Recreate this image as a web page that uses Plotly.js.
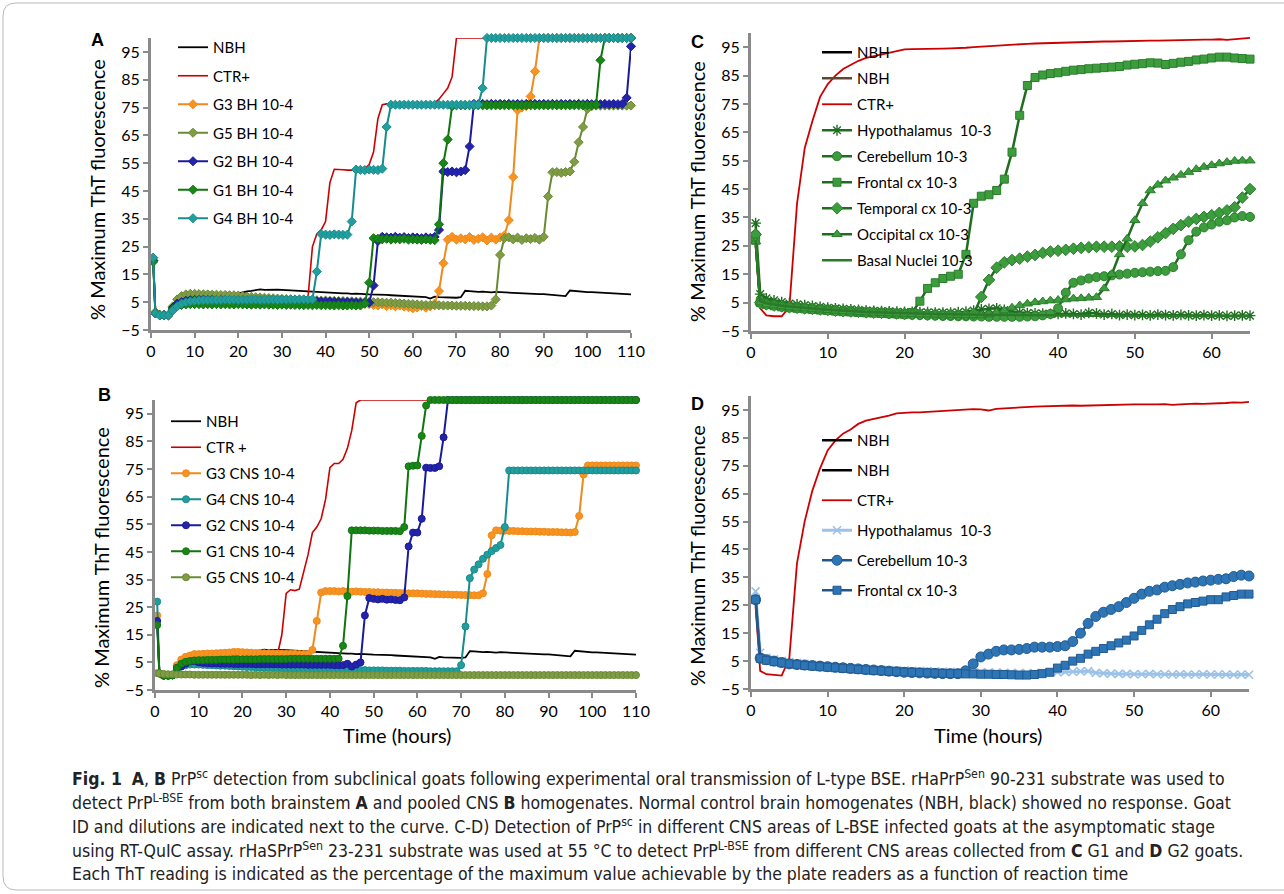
<!DOCTYPE html>
<html><head><meta charset="utf-8">
<script src="https://cdn.plot.ly/plotly-3.0.1.min.js"></script>
<style>html,body{margin:0;padding:0;background:#fff}#chart{width:1284px;height:894px}</style>
</head><body><div id="chart"></div>
<script>
// ---------- time axes (hours) ----------
const hoursAB = [0.5,1,2,3,4,5,6,7,8,9,10,
 11,12,13,14,15,16,17,18,19,20,
 21,22,23,24,25,26,27,28,29,30,
 31,32,33,34,35,36,37,38,39,40,
 41,42,43,44,45,46,47,48,49,50,
 51,52,53,54,55,56,57,58,59,60,
 61,62,63,64,65,66,67,68,69,70,
 71,72,73,74,75,76,77,78,79,80,
 81,82,83,84,85,86,87,88,89,90,
 91,92,93,94,95,96,97,98,99,100,
 101,102,103,104,105,106,107,108,109,110];
const hoursCD = [0.6,1.2,2,3,4,5,6,7,8,9,10,
 11,12,13,14,15,16,17,18,19,20,
 21,22,23,24,25,26,27,28,29,30,
 31,32,33,34,35,36,37,38,39,40,
 41,42,43,44,45,46,47,48,49,50,
 51,52,53,54,55,56,57,58,59,60,
 61,62,63,64,65];

// ---------- Panel A (brainstem) ----------
const nbhA = [20,1.5,0.5,0.3,0.4,3,5,6,6.5,6.8,7,
 7.1,7.2,7.2,7.3,7.3,7.4,7.5,7.6,7.8,8.2,
 8.6,8.9,9.1,9.3,9.6,9.4,9.5,9.6,9.5,9.4,
 9.3,9.2,9.1,9.0,8.9,8.8,8.9,8.7,8.6,8.5,
 8.5,8.4,8.3,8.2,8.2,8.0,8.1,7.9,7.9,7.8,
 7.8,7.7,7.6,7.6,7.5,7.4,7.4,7.3,7.2,7.1,
 7.0,7.0,6.8,6.3,7.0,6.8,6.7,6.6,6.7,6.6,
 6.8,9.1,9.0,8.8,8.7,8.8,8.6,8.5,8.7,8.6,
 8.5,8.6,8.4,8.3,8.2,8.2,8.1,8.0,7.9,7.9,
 7.8,7.7,7.6,7.4,7.2,9.2,9.0,8.8,8.7,8.6,
 8.6,8.5,8.4,8.4,8.3,8.2,8.1,8.0,7.9,7.8];
const ctrA = [21,1,0.3,0.3,0.4,3,5,5.5,6,6,6,
 6,6,6,6.1,6.1,6.1,6.2,6.2,6.2,6.2,
 6.2,6.3,6.3,6.3,6.3,6.4,6.4,6.4,6.4,6.5,
 6.5,6.5,6.6,6.6,6.7,7,25,29.5,31,34,
 48,52.8,52.8,52.6,52.5,52.5,52.5,52.5,53,54.5,
 59,71,76,76.3,76.3,76.3,76.3,76.3,76.3,76.3,
 76.3,76.3,76.3,76.3,76.6,78,80,82,86,100,
 100,100,100,100,100,100,100,100,100,100,
 100,100,100,100,100,100,100,100,100,100,
 100,100,100,100,100,100,100,100,100,100,
 100,100,100,100,100,100,100,100,100,100];
const g3A = [21,1,0.3,0.2,0.3,2.5,4,5,5.5,5.8,6,
 6,6,6.2,6,6.1,6,6.2,6,6,5.9,
 5.8,5.8,5.7,5.7,5.6,5.6,5.5,5.5,5.4,5.4,
 5.3,5.3,5.2,5.2,5.1,5,5,5,4.9,4.9,
 4.8,4.8,4.7,4.7,4.6,4.6,4.5,4.5,4.4,4.3,
 4,3.8,4.2,3.6,3.9,3.5,3.8,3.4,3.2,2.8,
 3.1,3.6,3.0,3.5,4.5,9,19,27.5,28.5,27.5,
 28,27.6,28.4,27.4,27.8,28.3,27.2,28.2,27.5,28.3,
 29,34.5,50,74,75,75.5,79,88,100,100,
 100,100,100,100,100,100,100,100,100,100,
 100,100,100,100,100,100,100,100,100,100];
const g5A = [20,1.5,0.5,0.5,0.5,3.5,6,7.2,7.8,8,8,
 7.9,7.8,7.8,7.7,7.7,7.6,7.6,7.5,7.5,7.4,
 7.2,7,6.9,6.8,6.7,6.6,6.5,6.4,6.3,6.2,
 6.1,6,6,5.9,5.9,5.8,5.8,5.7,5.6,5.6,
 5.5,5.5,5.4,5.4,5.3,5.3,5.2,5.2,5.1,5.1,
 5,5,4.9,4.8,4.8,4.7,4.6,4.5,4.4,4.3,
 4.2,4.1,4,4,3.9,3.9,3.8,3.8,3.8,3.7,
 3.7,3.7,3.6,3.6,3.6,3.5,3.5,3.8,6,22,
 28,28.3,27.6,28.2,27.4,28,27.7,28.1,27.5,28.5,
 43,51.7,51.8,51.5,51.8,52,55.5,62.5,68,74.5,
 75.5,75.7,75.7,75.7,75.7,75.7,75.7,75.7,75.7,75.7];
const g2A = [20,1,0.3,0.3,0.3,3,4.5,5,5.5,5.7,5.8,
 5.8,5.9,5.8,5.9,5.8,5.8,5.7,5.8,5.7,5.7,
 5.7,5.6,5.6,5.7,5.6,5.5,5.6,5.5,5.5,5.4,
 5.4,5.5,5.4,5.3,5.4,5.3,5.3,5.3,5.2,5.2,
 5.2,5.1,5.1,5.0,5.0,4.9,4.8,4.8,4.7,4.8,
 11,27,28.5,28.3,28.2,28.5,28.2,28.4,28.1,28.3,
 28.2,28,28.3,28.1,28.5,31,52,51.8,52,51.7,
 52,52.5,61,76.3,76.2,76.3,76.2,76.3,76.2,76.3,
 76.2,76.3,76.2,76.3,76.2,76.3,76.2,76.3,76.2,76.3,
 76.2,76.3,76.2,76.3,76.2,76.3,76.2,76.3,76.2,76.3,
 76.2,76.3,76.2,76.3,76.2,76.3,76.2,76.3,78.5,97];
const g1A = [19.5,1,0.3,0.3,0.3,2.5,3.5,4,4.2,4.3,4.3,
 4.3,4.2,4.3,4.2,4.3,4.2,4.3,4.2,4.2,4.3,
 4.2,4.2,4.1,4.2,4.1,4.2,4.1,4.1,4.0,4.1,
 4.0,4.1,4.0,4.0,3.9,4.0,3.9,4.0,3.9,3.9,
 3.9,3.8,3.9,3.8,3.8,3.9,3.8,3.8,4.5,12,
 28,27.8,27.6,27.8,27.5,27.7,27.6,27.8,27.5,27.6,
 27.5,27.4,27.6,27.4,27.3,33,55,63.5,75.5,75.8,
 75.8,75.8,75.8,75.8,75.8,75.8,75.8,75.8,75.8,75.8,
 75.8,75.8,75.8,75.8,75.8,75.8,75.8,75.8,75.8,75.8,
 75.8,75.8,75.8,75.8,75.8,75.8,75.8,75.8,75.8,75.8,
 75.8,76,92,100,100,100,100,100,100,100];
const g4A = [21,1,0.3,0.3,0.3,2,3.5,4.5,5,5.3,5.5,
 5.6,5.7,5.7,5.8,5.8,5.8,5.9,5.8,5.9,5.8,
 5.9,5.8,5.9,5.9,5.8,5.9,5.9,5.9,5.8,5.9,
 5.9,6,5.9,6,6,6,6,16,29.5,29.3,
 29.2,29.4,29.3,29.2,29.3,34,52.7,52.6,52.5,52.7,
 52.6,52.5,53,68,76,76,76,76,76,76,
 76,76,76,76,76,76,76,76,76,76,
 76,76,76,76,76,82,100,100,100,100,
 100,100,100,100,100,100,100,100,100,100,
 100,100,100,100,100,100,100,100,100,100,
 100,100,100,100,100,100,100,100,100,100];

// ---------- Panel B (pooled CNS) ----------
const nbhB = [20,1.5,0.5,0.3,0.4,3,5,6,6.5,6.8,7,
 7.1,7.2,7.2,7.3,7.3,7.4,7.5,7.6,7.8,8.2,
 8.6,8.9,9.1,9.3,9.6,9.4,9.5,9.6,9.5,9.4,
 9.3,9.2,9.1,9.0,8.9,8.8,8.9,8.7,8.6,8.5,
 8.5,8.4,8.3,8.2,8.2,8.0,8.1,7.9,7.9,7.8,
 7.8,7.7,7.6,7.6,7.5,7.4,7.4,7.3,7.2,7.1,
 7.0,7.0,6.8,6.3,7.0,6.8,6.7,6.6,6.7,6.6,
 6.8,9.1,9.0,8.8,8.7,8.8,8.6,8.5,8.7,8.6,
 8.5,8.6,8.4,8.3,8.2,8.2,8.1,8.0,7.9,7.9,
 7.8,7.7,7.6,7.4,7.2,9.2,9.0,8.8,8.7,8.6,
 8.6,8.5,8.4,8.4,8.3,8.2,8.1,8.0,7.9,7.8];
const ctrB = [21,1,0.3,0.3,0.4,3,5,5.5,6,6.2,6.3,
 6.4,6.5,6.5,6.6,6.6,6.7,6.7,6.8,6.8,6.9,
 7,7,7.1,7.2,7.3,7.4,7.5,7.7,15,30,
 31.3,31,31.5,38,44,52,54,57,64,75.5,
 77,77,78.5,82.5,89,99,100,100,100,100,
 100,100,100,100,100,100,100,100,100,100,
 100,100,100,100,100,100,100,100,100,100,
 100,100,100,100,100,100,100,100,100,100,
 100,100,100,100,100,100,100,100,100,100,
 100,100,100,100,100,100,100,100,100,100,
 100,100,100,100,100,100,100,100,100,100];
const g3B = [22,1,0.2,0.2,0.3,4,6,7,7.5,8,8,
 8.1,8.2,8.2,8.3,8.4,8.5,8.6,8.8,8.8,8.7,
 8.6,8.5,8.4,8.4,8.3,8.3,8.2,8.2,8.2,8.1,
 8.1,8.1,8,8,8,9.5,20,30.3,30.8,30.8,
 30.8,30.7,30.8,30.7,30.6,30.7,30.6,30.5,30.5,30.4,
 30.4,30.3,30.3,30.2,30.2,30.1,30.1,30,30,30,
 29.9,29.8,29.8,29.7,29.7,29.6,29.6,29.5,29.5,29.4,
 29.4,29.3,29.3,29.3,30,37,51,52.8,52.7,52.7,
 52.6,52.6,52.5,52.5,52.4,52.4,52.4,52.3,52.3,52.2,
 52.2,52.2,52.1,52.1,52,52.2,58,73,76.3,76.3,
 76.3,76.3,76.3,76.3,76.3,76.3,76.3,76.3,76.3,76.3];
const g4B = [27,1,0.2,0.2,0.3,2.5,3.5,4,4.2,4.2,4.2,
 4.1,4.0,4.0,3.9,3.8,3.8,3.7,3.6,3.5,3.4,
 3.3,3.3,3.2,3.1,3.1,3.0,3.0,2.9,2.9,2.8,
 2.8,2.7,2.7,2.6,2.6,2.6,2.5,2.5,2.5,2.4,
 2.4,2.4,2.3,2.3,2.3,2.2,2.2,2.2,2.1,2.1,
 2.1,2.1,2.0,2.0,2.0,2.0,1.9,1.9,1.9,1.9,
 1.9,1.9,1.8,1.8,1.8,1.8,1.8,1.8,1.8,4,
 18,35.5,38.6,40.5,42.5,44,45.3,46.4,47.5,54,
 74.5,74.5,74.5,74.5,74.5,74.5,74.5,74.5,74.5,74.5,
 74.5,74.5,74.5,74.5,74.5,74.5,74.5,74.5,74.5,74.5,
 74.5,74.5,74.5,74.5,74.5,74.5,74.5,74.5,74.5,74.5];
const g2B = [20,1,0.2,0.2,0.3,3,3.5,4.5,5.3,5.5,5,
 4.8,4.7,4.6,4.6,4.5,4.5,4.5,4.4,4.4,4.4,
 4.4,4.4,4.3,4.3,4.3,4.3,4.3,4.3,4.2,4.2,
 4.2,4.2,4.2,4.2,4.1,4.1,4.1,4.1,4.1,4.1,
 4.0,4.0,4.0,4.5,3.5,4.2,5,22,28.3,28,
 27.8,28,27.7,27.8,27.6,27.5,28.5,47,52,52,
 57,75.5,75.4,75.4,76,86.5,100,100,100,100,
 100,100,100,100,100,100,100,100,100,100,
 100,100,100,100,100,100,100,100,100,100,
 100,100,100,100,100,100,100,100,100,100,
 100,100,100,100,100,100,100,100,100,100];
const g1B = [18.5,1,0.2,0.2,0.3,3,4.5,5.2,5.5,5.7,5.8,
 5.8,5.9,5.9,5.9,6.0,6.0,6.0,6.0,6.1,6.1,
 6.1,6.1,6.1,6.2,6.2,6.2,6.2,6.2,6.2,6.2,
 6.3,6.3,6.3,6.3,6.3,6.3,6.3,6.3,6.3,6.3,
 6.3,6.4,11,29,52.8,52.8,52.8,52.8,52.7,52.7,
 52.7,52.6,52.6,52.6,52.6,52.5,54,76,76.2,76.3,
 87,98,100,100,100,100,100,100,100,100,
 100,100,100,100,100,100,100,100,100,100,
 100,100,100,100,100,100,100,100,100,100,
 100,100,100,100,100,100,100,100,100,100,
 100,100,100,100,100,100,100,100,100,100];
const g5B = [1.1,1,0.8,0.7,0.7,0.6,0.6,0.6,0.6,0.5,0.5,
 0.5,0.5,0.5,0.5,0.5,0.5,0.5,0.5,0.5,0.5,
 0.5,0.4,0.5,0.4,0.5,0.4,0.5,0.4,0.5,0.4,
 0.4,0.4,0.4,0.4,0.4,0.4,0.4,0.4,0.4,0.4,
 0.4,0.4,0.4,0.4,0.4,0.4,0.4,0.4,0.4,0.4,
 0.4,0.4,0.4,0.4,0.4,0.4,0.4,0.4,0.4,0.4,
 0.4,0.4,0.4,0.4,0.4,0.4,0.4,0.4,0.4,0.4,
 0.4,0.4,0.4,0.4,0.4,0.4,0.4,0.4,0.4,0.4,
 0.4,0.4,0.4,0.4,0.4,0.4,0.4,0.4,0.4,0.4,
 0.4,0.4,0.4,0.4,0.4,0.4,0.4,0.4,0.4,0.4,
 0.4,0.4,0.4,0.4,0.4,0.4,0.4,0.4,0.4,0.4];

// ---------- Panel C (G1 CNS areas) ----------
// NBH controls are listed in the legend but their curves are not visible in the picture
const nbhTimeC = [0.6];
const nbhC1 = [null];
const nbhC2 = [null];
const ctrC = [25,3,0.5,0.2,0.2,3.5,40,59.5,69,77.5,82,
 85,87.3,88.7,90.2,91.2,91.8,92.5,93.2,93.8,94.2,
 94.3,94.3,94.4,94.4,94.5,94.6,94.6,94.8,95,95.2,
 95.4,95.6,95.8,96,96.1,96.2,96.3,96.4,96.5,96.6,
 96.7,96.7,96.8,96.9,96.9,97,97,97.1,97.1,97.2,
 97.2,97.3,97.3,97.4,97.5,97.5,97.5,97.6,97.7,97.7,
 97.8,97.6,97.9,98,98.3];
const hypoC = [33,8,6.5,5.8,5.2,4.7,4.4,4.1,3.8,3.5,3.2,
 3.0,2.8,2.6,2.4,2.2,2.1,2.0,1.9,1.8,1.7,
 1.7,1.6,1.6,1.5,1.5,1.5,1.6,1.8,2.2,2.6,
 2.8,3.0,2.4,1.8,1.5,1.3,1.2,1.1,1.0,1.0,
 1.2,1.0,0.8,1.4,1.2,0.8,1.0,0.6,0.8,0.6,
 0.7,0.5,0.8,0.6,0.5,0.7,0.5,0.4,0.6,0.4,
 0.5,0.3,0.4,0.5,0.4];
const cereC = [29,5,4.5,4.2,3.9,3.6,3.4,3.2,3.0,2.8,2.6,
 2.4,2.2,2.0,1.8,1.6,1.5,1.3,1.1,1.0,0.8,
 0.7,0.6,0.5,0.4,0.3,0.3,0.2,0.2,0.1,0.1,
 0,0,0,0,0,0.1,0.2,0.5,1,3,
 8.5,12,12.8,13.5,14,14.3,14.6,14.9,15.2,15.5,
 15.7,15.9,16.1,16.2,17.5,22,27,30,31.5,32.5,
 33.5,34,35,35.5,35.2];
const frontC = [27,5,4.3,3.9,3.5,3.2,3.0,2.8,2.6,2.4,2.2,
 2.0,1.8,1.7,1.5,1.4,1.3,1.2,1.1,1.0,0.9,
 1.5,5.5,10,12,13.5,14.3,15,22,40,42.5,
 43,44.5,48.5,58,71,81.5,84.3,85.2,85.7,86,
 86.5,86.9,87.1,87.4,87.6,87.8,88,88.2,88.7,89,
 89.2,89.5,89.4,88.9,89.3,89.7,90,90.5,90.8,91.2,
 91.5,91.5,91.2,91,90.8];
const tempC = [29,5,4.4,4.0,3.7,3.4,3.2,3.0,2.8,2.6,2.4,
 2.2,2.0,1.9,1.8,1.6,1.5,1.4,1.3,1.2,1.1,
 1.0,0.9,0.8,0.8,0.7,0.7,0.6,0.6,1,7,
 13,17.3,19.2,20,20.5,21.2,21.8,22.5,23,23.3,
 23.6,24,24.3,24.5,24.7,24.7,24.7,24.8,24.7,24.8,
 25.3,26.5,28,29.5,31,32.3,33.5,34.5,35.2,35.8,
 36.6,37.5,38.6,42,45];
const occC = [26.5,5,4.3,3.9,3.6,3.3,3.1,2.9,2.7,2.5,2.3,
 2.1,1.9,1.8,1.6,1.5,1.4,1.3,1.2,1.1,1.0,
 0.9,0.8,0.8,0.7,0.7,0.6,0.6,0.5,0.5,0.5,
 0.8,1.5,2.2,3.2,4,4.6,5.1,5.4,5.7,5.9,
 6.1,6.4,6.5,6.7,6.9,10,15,22,27.5,34,
 40,44.5,46.5,48,49,50,51,52,52.8,53.4,
 54,54.5,54.9,55,55];
const basalC = [27,5.5,4.8,4.3,3.9,3.6,3.3,3.1,2.9,2.7,2.5,
 2.3,2.1,2.0,1.8,1.7,1.6,1.5,1.4,1.3,1.2,
 1.1,1.1,1.0,1.0,0.9,0.9,0.8,0.8,0.8,0.7,
 0.7,0.7,0.6,0.6,0.6,0.6,0.5,0.5,0.5,0.5,
 0.5,0.5,0.5,0.4,0.4,0.4,0.4,0.4,0.4,0.4,
 0.4,0.3,0.3,0.3,0.3,0.3,0.3,0.3,0.3,0.3,
 0.3,0.3,0.3,0.3,0.3];

// ---------- Panel D (G2 CNS areas) ----------
const nbhTimeD = [0.6];
const nbhD1 = [null];
const nbhD2 = [null];
const ctrD = [24.5,1.5,0.3,0,-0.2,6,40,55,66,74,80.5,
 84,86.5,88,90,91.2,91.8,92.2,93,93.8,94,
 94.1,94.1,94.3,94.4,94.6,94.8,95,95.1,95.3,95.2,
 94.8,95.4,95.6,95.8,96,96.1,96.2,96.3,96.4,96.5,
 96.5,96.6,96.5,96.6,96.5,96.7,96.8,96.8,97,97,
 97,96.9,97,97.1,96.8,97,97.2,97.3,97.2,97.3,
 97.2,97.5,97.7,97.6,97.9];
const hypoD = [30,8,6.2,5.6,5.1,4.7,4.3,4.0,3.7,3.4,3.1,
 2.9,2.7,2.5,2.3,2.1,2.0,1.9,1.8,1.7,1.6,
 1.5,1.4,1.4,1.3,1.2,1.2,1.1,1.1,1.0,1.0,
 0.9,0.9,0.8,0.8,0.7,0.7,0.7,0.8,0.9,1.0,
 1.1,1.2,1.3,1.4,0.8,0.6,0.5,0.4,0.4,0.3,
 0.3,0.4,0.3,0.3,0.2,0.3,0.2,0.2,0.3,0.2,
 0.2,0.2,0.1,0.2,0.1];
const cereD = [27,6,5.5,5.0,4.5,4.0,3.8,3.6,3.4,3.2,3.0,
 2.8,2.6,2.4,2.2,2.0,1.8,1.6,1.4,1.2,1.0,
 0.9,0.8,0.7,0.6,0.5,0.5,0.5,1.5,4,6.5,
 7.5,8.5,9,9,9.2,9.5,10,10,10,10.2,
 10.5,12,15,18.5,21,22.5,23.5,24.5,26,27.5,
 29,30,30.5,31.5,32,32.5,33,33.3,33.7,34,
 34.3,34.5,35.3,35.8,35.5];
const frontD = [27,6,5.3,4.8,4.4,4.0,3.7,3.4,3.2,3.0,2.8,
 2.6,2.4,2.2,2.0,1.8,1.6,1.5,1.3,1.2,1.1,
 1.0,0.9,0.8,0.7,0.6,0.5,0.5,0.4,0.4,0.3,
 0.3,0.2,0.2,0.1,0,0,0.2,0.5,1,2.5,
 3.5,5,6,7.5,8.5,9.5,10.5,11.5,12.5,14,
 16,18,20,22,23.5,24.5,25.5,26,26.5,27,
 27,28,28.5,29,29];

const yTicks = [-5,5,15,25,35,45,55,65,75,85,95];
const xTicksAB = [0,10,20,30,40,50,60,70,80,90,100,110];
const xTicksCD = [0,10,20,30,40,50,60];

// ---------- checks ----------
[[nbhA,'nbhA'],[ctrA,'ctrA'],[g3A,'g3A'],[g5A,'g5A'],[g2A,'g2A'],[g1A,'g1A'],[g4A,'g4A'],
 [nbhB,'nbhB'],[ctrB,'ctrB'],[g3B,'g3B'],[g4B,'g4B'],[g2B,'g2B'],[g1B,'g1B'],[g5B,'g5B']].forEach(p=>{
  if(p[0].length!==hoursAB.length) throw new Error('length '+p[1]+' '+p[0].length+' vs '+hoursAB.length);});
[[ctrC,'ctrC'],[hypoC,'hypoC'],[cereC,'cereC'],[frontC,'frontC'],[tempC,'tempC'],[occC,'occC'],[basalC,'basalC'],
 [ctrD,'ctrD'],[hypoD,'hypoD'],[cereD,'cereD'],[frontD,'frontD']].forEach(p=>{
  if(p[0].length!==hoursCD.length) throw new Error('length '+p[1]+' '+p[0].length+' vs '+hoursCD.length);});

// ---------- layout helpers ----------
const W = 1284, H = 894;
const FONT = 'Lato, "Open Sans", sans-serif';
const AX = '#8a8a8a';
function xd(a,b){return [a/W, b/W];}
function yd(top,bottom){return [1-bottom/H, 1-top/H];}

let gid = 0;
function tr(name, x, y, xa, ya, leg, o){
  gid++;
  const t = {type:'scatter', name:name, x:x, y:y, xaxis:xa, yaxis:ya, legend:leg,
    legendgroup:'g'+gid, cliponaxis:false,
    mode: o.sym ? 'lines+markers' : 'lines',
    line:{color:o.lc, width:o.lw||2}, hoverinfo:'skip'};
  if(o.sym){
    t.marker = {symbol:o.sym, size:o.ms||7, color:o.mc||o.lc, line:{color:o.ml||o.lc, width:o.mlw===undefined?1:o.mlw}};
  }
  return t;
}

const RED='#cc0000';
const ORANGE_L='#ef8a1e', ORANGE_M='#f7931e';
const OLIVE_L='#6a8a33', OLIVE_M='#809d45';
const BLUE_L='#1a1a9c', BLUE_M='#2424aa';
const GREEN_L='#0e760e', GREEN_M='#1a861a';
const TEAL_L='#178c8c', TEAL_M='#229e9e';
const data = [
  // A
  tr('NBH', hoursAB, nbhA, 'x','y','legend', {lc:'#000', lw:1.8}),
  tr('CTR+', hoursAB, ctrA, 'x','y','legend', {lc:RED, lw:1.6}),
  tr('G3 BH 10-4', hoursAB, g3A, 'x','y','legend', {lc:ORANGE_L, sym:'diamond', mc:ORANGE_M}),
  tr('G5 BH 10-4', hoursAB, g5A, 'x','y','legend', {lc:OLIVE_L, sym:'diamond', mc:OLIVE_M}),
  tr('G2 BH 10-4', hoursAB, g2A, 'x','y','legend', {lc:BLUE_L, sym:'diamond', mc:BLUE_M}),
  tr('G1 BH 10-4', hoursAB, g1A, 'x','y','legend', {lc:GREEN_L, sym:'diamond', mc:GREEN_M}),
  tr('G4 BH 10-4', hoursAB, g4A, 'x','y','legend', {lc:TEAL_L, sym:'diamond', mc:TEAL_M}),
  // B
  tr('NBH', hoursAB, nbhB, 'x2','y2','legend2', {lc:'#000', lw:1.8}),
  tr('CTR +', hoursAB, ctrB, 'x2','y2','legend2', {lc:RED, lw:1.6}),
  tr('G3 CNS 10-4', hoursAB, g3B, 'x2','y2','legend2', {lc:ORANGE_L, sym:'circle', mc:ORANGE_M}),
  tr('G4 CNS 10-4', hoursAB, g4B, 'x2','y2','legend2', {lc:TEAL_L, sym:'circle', mc:TEAL_M}),
  tr('G2 CNS 10-4', hoursAB, g2B, 'x2','y2','legend2', {lc:BLUE_L, sym:'circle', mc:BLUE_M}),
  tr('G1 CNS 10-4', hoursAB, g1B, 'x2','y2','legend2', {lc:GREEN_L, sym:'circle', mc:GREEN_M}),
  tr('G5 CNS 10-4', hoursAB, g5B, 'x2','y2','legend2', {lc:OLIVE_L, sym:'circle', mc:OLIVE_M}),
  // C
  tr('NBH', nbhTimeC, nbhC1, 'x3','y3','legend3', {lc:'#000', lw:2.5}),
  tr('NBH', nbhTimeC, nbhC2, 'x3','y3','legend3', {lc:'#5b4a33', lw:2.5}),
  tr('CTR+', hoursCD, ctrC, 'x3','y3','legend3', {lc:RED, lw:1.8}),
  tr('Hypothalamus  10-3', hoursCD, hypoC, 'x3','y3','legend3', {lc:'#1f6e1f', lw:2.5, sym:'asterisk-open', ms:9, ml:'#2a8a2a', mlw:1.4}),
  tr('Cerebellum 10-3', hoursCD, cereC, 'x3','y3','legend3', {lc:'#1f6e1f', lw:2.5, sym:'circle', ms:9, mc:'#3d9c3d', ml:'#2a7f2a'}),
  tr('Frontal cx 10-3', hoursCD, frontC, 'x3','y3','legend3', {lc:'#1f6e1f', lw:2.5, sym:'square', ms:8, mc:'#3d9c3d', ml:'#2a7f2a'}),
  tr('Temporal cx 10-3', hoursCD, tempC, 'x3','y3','legend3', {lc:'#1f6e1f', lw:2.5, sym:'diamond', ms:9, mc:'#3d9c3d', ml:'#2a7f2a'}),
  tr('Occipital cx 10-3', hoursCD, occC, 'x3','y3','legend3', {lc:'#1f6e1f', lw:2.5, sym:'triangle-up', ms:9, mc:'#3d9c3d', ml:'#2a7f2a'}),
  tr('Basal Nuclei 10-3', hoursCD, basalC, 'x3','y3','legend3', {lc:'#2a7a2a', lw:2.5}),
  // D
  tr('NBH', nbhTimeD, nbhD1, 'x4','y4','legend4', {lc:'#000', lw:2.5}),
  tr('NBH', nbhTimeD, nbhD2, 'x4','y4','legend4', {lc:'#000', lw:2.5}),
  tr('CTR+', hoursCD, ctrD, 'x4','y4','legend4', {lc:RED, lw:1.8}),
  tr('Hypothalamus  10-3', hoursCD, hypoD, 'x4','y4','legend4', {lc:'#9cc2e8', lw:3, sym:'x-thin-open', ms:8, ml:'#4f86c0', mlw:1.6}),
  tr('Cerebellum 10-3', hoursCD, cereD, 'x4','y4','legend4', {lc:'#24568a', lw:2.5, sym:'circle', ms:10, mc:'#2e75b6', ml:'#215a90'}),
  tr('Frontal cx 10-3', hoursCD, frontD, 'x4','y4','legend4', {lc:'#24568a', lw:2.5, sym:'square', ms:8, mc:'#2e75b6', ml:'#215a90'})
];

function xaxis(dom, anchor, rng, tv){
  return {domain:dom, anchor:anchor, range:rng, tickvals:tv, ticks:'outside', ticklen:5, tickwidth:2, tickcolor:AX,
    showline:true, linecolor:AX, linewidth:3, showgrid:false, zeroline:false, fixedrange:true,
    tickfont:{family:FONT, size:16, color:'#000'}};
}
function yaxis(dom, anchor){
  return {domain:dom, anchor:anchor, range:[-5,100], tickvals:yTicks, ticks:'outside', ticklen:5, tickwidth:2, tickcolor:AX,
    showline:true, linecolor:AX, linewidth:3, showgrid:false, zeroline:false, fixedrange:true,
    tickfont:{family:FONT, size:16, color:'#000'}};
}
function legend(xLeft, yTop, gap){
  return {x:xLeft/W, y:1-yTop/H, xanchor:'left', yanchor:'top', bgcolor:'rgba(0,0,0,0)', borderwidth:0,
    font:{family:FONT, size:15, color:'#000'}, tracegroupgap:gap, traceorder:'grouped', itemwidth:30};
}

const YT = '% Maximum ThT fluorescence';
function ann(text, xp, yp, o){
  return Object.assign({text:text, x:xp/W, y:1-yp/H, xref:'paper', yref:'paper', showarrow:false,
    xanchor:'center', yanchor:'middle', font:{family:FONT, size:20, color:'#000'}}, o||{});
}
const CAP = '"Liberation Sans Narrow", "DejaVu Sans Condensed", "Roboto Condensed", sans-serif';
function cap(text, yp){
  return {text:text, x:70/W, y:1-yp/H, xref:'paper', yref:'paper', showarrow:false, xanchor:'left', yanchor:'middle',
    align:'left', font:{family:CAP, size:17.5, color:'#222'}};
}
const LETTER = {family:'Liberation Sans, Arial, sans-serif', size:18, color:'#000'};

const layout = {
  width:W, height:H, margin:{l:0,r:0,t:0,b:0}, paper_bgcolor:'#fff', plot_bgcolor:'rgba(0,0,0,0)',
  showlegend:true,
  xaxis: xaxis(xd(151,631),'y',[0,110],xTicksAB),
  yaxis: yaxis(yd(38,330),'x'),
  xaxis2: xaxis(xd(155,636),'y2',[0,110],xTicksAB),
  yaxis2: yaxis(yd(400,690),'x2'),
  xaxis3: xaxis(xd(751,1250),'y3',[0,65],xTicksCD),
  yaxis3: yaxis(yd(33,331),'x3'),
  xaxis4: xaxis(xd(751,1249),'y4',[0,65],xTicksCD),
  yaxis4: yaxis(yd(396,689),'x4'),
  legend: legend(173, 31, 6),
  legend2: legend(166, 405, 3.5),
  legend3: legend(817, 36, 3.5),
  legend4: legend(817, 424, 7.5),
  annotations: [
    ann('<b>A</b>', 97, 40, {font:LETTER}),
    ann('<b>B</b>', 104, 395, {font:LETTER}),
    ann('<b>C</b>', 697, 42, {font:LETTER}),
    ann('<b>D</b>', 697, 404, {font:LETTER}),
    ann(YT, 97, 190, {textangle:-90}),
    ann(YT, 101, 558, {textangle:-90}),
    ann(YT, 697, 192, {textangle:-90}),
    ann(YT, 697, 556, {textangle:-90}),
    ann('Time (hours)', 397, 735),
    ann('Time (hours)', 988, 735),
    cap('<b>Fig. 1</b>  <b>A</b>, <b>B</b> PrP<sup>sc</sup> detection from subclinical goats following experimental oral transmission of L-type BSE. rHaPrP<sup>Sen</sup> 90-231 substrate was used to', 778),
    cap('detect PrP<sup>L-BSE</sup> from both brainstem <b>A</b> and pooled CNS <b>B</b> homogenates. Normal control brain homogenates (NBH, black) showed no response. Goat', 802),
    cap('ID and dilutions are indicated next to the curve. C-D) Detection of PrP<sup>sc</sup> in different CNS areas of L-BSE infected goats at the asymptomatic stage', 826),
    cap('using RT-QuIC assay. rHaSPrP<sup>Sen</sup> 23-231 substrate was used at 55 °C to detect PrP<sup>L-BSE</sup> from different CNS areas collected from <b>C</b> G1 and <b>D</b> G2 goats.', 850),
    cap('Each ThT reading is indicated as the percentage of the maximum value achievable by the plate readers as a function of reaction time', 874)
  ],
  shapes: [
    {type:'path', xref:'paper', yref:'paper',
     path:'M '+(1290/W)+','+(1-3/H)+' L '+(16/W)+','+(1-3/H)+' Q '+(3/W)+','+(1-3/H)+' '+(3/W)+','+(1-16/H)+
          ' L '+(3/W)+','+(1-876/H)+' Q '+(3/W)+','+(1-890/H)+' '+(16/W)+','+(1-890/H)+' L '+(1290/W)+','+(1-890/H),
     line:{color:'#b9b9b9', width:1}}
  ]
};

Plotly.newPlot('chart', data, layout, {displayModeBar:false, staticPlot:true});
</script>
</body></html>
